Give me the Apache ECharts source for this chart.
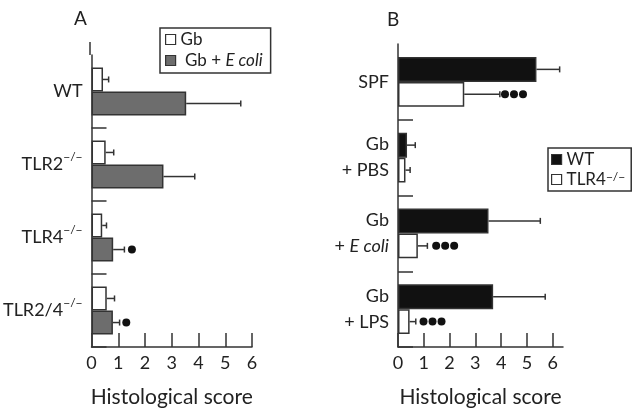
<!DOCTYPE html>
<html lang="en">
<head>
    <meta charset="UTF-8">
    <title>Histological score</title>
    <script src="https://cdn.jsdelivr.net/npm/echarts@6/dist/echarts.min.js"></script>
    <style>
        *{margin:0;padding:0;}
        html,body{width:100%;height:100%;overflow:hidden;background:#fff;}
        .container{width:635px;height:413px;}
    </style>
</head>
<body>
<div class="container"></div>
<script>
    // panel A
    const catsA = ['WT', 'TLR2−/−', 'TLR4−/−', 'TLR2/4−/−'];
    const gbA = [0.43, 0.53, 0.40, 0.57];
    const gbErrA = [0.64, 0.83, 0.56, 0.86];
    const ecoliA = [3.54, 2.69, 0.81, 0.80];
    const ecoliErrA = [5.58, 3.86, 1.23, 1.05];
    const dotsA = [[2, 1.51, 1], [3, 1.30, 1]];   // [category, first dot, count]

    // panel B
    const catsB = ['SPF', 'Gb + PBS', 'Gb + E coli', 'Gb + LPS'];
    const wtB = [5.37, 0.35, 3.51, 3.69];
    const wtErrB = [6.27, 0.67, 5.52, 5.71];
    const tlr4B = [2.57, 0.29, 0.77, 0.45];
    const tlr4ErrB = [3.95, 0.47, 1.14, 0.69];
    const dotsB = [[0, 4.15, 3], [2, 1.48, 3], [3, 0.99, 3]];

    const ticks = [0, 1, 2, 3, 4, 5, 6];

    const FONT = 'Lato';
    const INK = '#333';
    const GAP = 0.34;

    window.onload = function () {
        let chart = echarts.init(document.querySelector('.container'));

        // bar center offset inside the category band
        function barOffset(api, sign) {
            let band = Math.abs(api.size([0, 1])[1]);
            return sign * band * (1 - GAP) / 4;
        }

        function errorSeries(name, vals, errs, sign, idx) {
            return {
                type: 'custom', name: name + ' err', xAxisIndex: idx, yAxisIndex: idx,
                silent: true, z: 1,
                data: vals.map((v, i) => [i, v, errs[i]]),
                renderItem: function (params, api) {
                    let p0 = api.coord([api.value(1), api.value(0)]);
                    let p1 = api.coord([api.value(2), api.value(0)]);
                    let y = p0[1] + barOffset(api, sign);
                    let st = {stroke: INK, lineWidth: 1.5};
                    return {
                        type: 'group', children: [
                            {type: 'line', shape: {x1: p0[0], y1: y, x2: p1[0], y2: y}, style: st},
                            {type: 'line', shape: {x1: p1[0], y1: y - 3, x2: p1[0], y2: y + 3}, style: st}
                        ]
                    };
                }
            };
        }

        function dotSeries(dots, idx) {
            return {
                type: 'custom', xAxisIndex: idx, yAxisIndex: idx, silent: true, z: 3,
                data: dots,
                renderItem: function (params, api) {
                    let p = api.coord([api.value(1), api.value(0)]);
                    let y = p[1] + barOffset(api, 1);
                    let kids = [];
                    for (let k = 0; k < api.value(2); k++) {
                        kids.push({type: 'circle', shape: {cx: p[0] + k * 9, cy: y, r: 4}, style: {fill: '#111'}});
                    }
                    return {type: 'group', children: kids};
                }
            };
        }

        function barSeries(name, data, fill, idx) {
            return {
                type: 'bar', name: name, xAxisIndex: idx, yAxisIndex: idx,
                data: data, barGap: '0%', barCategoryGap: (GAP * 100) + '%',
                itemStyle: {color: fill, borderColor: INK, borderWidth: 1.5},
                emphasis: {disabled: true}, z: 2
            };
        }

        function xAxis(idx, max) {
            return {
                type: 'value', gridIndex: idx, min: 0, max: max, interval: 1,
                name: 'Histological score', nameLocation: 'middle', nameGap: 40,
                nameTextStyle: {fontFamily: FONT, fontSize: 21, color: '#222'},
                axisLine: {show: true, lineStyle: {color: INK, width: 1.5}},
                axisTick: {show: true, inside: true, length: 14, customValues: ticks,
                    lineStyle: {color: INK, width: 1.5}},
                axisLabel: {customValues: ticks, margin: 7, fontFamily: FONT, fontSize: 18, color: '#222'},
                splitLine: {show: false}
            };
        }

        const rich = {
            n: {fontFamily: FONT, fontSize: 18, color: '#222', lineHeight: 26},
            i: {fontFamily: FONT, fontSize: 18, color: '#222', fontStyle: 'italic', lineHeight: 26},
            sup: {fontFamily: FONT, fontSize: 12, color: '#222', verticalAlign: 'top', lineHeight: 15}
        };

        function yAxis(idx, cats, formatter) {
            return {
                type: 'category', gridIndex: idx, data: cats, inverse: true,
                axisLine: {show: true, lineStyle: {color: INK, width: 1.5}},
                axisTick: {show: true, inside: true, length: 15, interval: (i) => i > 0,
                    lineStyle: {color: INK, width: 1.5}},
                axisLabel: {interval: 0, margin: 9, formatter: formatter, rich: rich},
                splitLine: {show: false}
            };
        }

        let fmtA = function (v) {
            let parts = v.split('−/−');
            return parts.length > 1 ? '{n|' + parts[0] + '}{sup|−/−}' : '{n|' + v + '}';
        };
        let fmtB = function (v) {
            if (v.indexOf('Gb + ') !== 0) return '{n|' + v + '}';
            let rest = v.slice(5);
            let tag = rest === 'E coli' ? 'i' : 'n';
            return '{n|Gb}\n{n|+ }{' + tag + '|' + rest + '}';
        };

        let legendText = {fontFamily: FONT, fontSize: 17, color: '#222', rich: {
            n: {fontFamily: FONT, fontSize: 17, color: '#222'},
            i: {fontFamily: FONT, fontSize: 17, color: '#222', fontStyle: 'italic'},
            sup: {fontFamily: FONT, fontSize: 12, color: '#222', verticalAlign: 'top', lineHeight: 14}
        }};

        let options = {
            animation: false,
            backgroundColor: '#fff',
            title: [
                {text: 'A', left: 69, top: 4, textStyle: {fontFamily: FONT, fontSize: 19, fontWeight: 'normal', color: '#222'}},
                {text: 'B', left: 382, top: 5, textStyle: {fontFamily: FONT, fontSize: 19, fontWeight: 'normal', color: '#222'}}
            ],
            grid: [
                {left: 90, right: 383, top: 55, bottom: 59},
                {left: 398, right: 72, top: 44, bottom: 60}
            ],
            xAxis: [xAxis(0, 6), xAxis(1, 6.4)],
            yAxis: [yAxis(0, catsA, fmtA), yAxis(1, catsB, fmtB)],
            legend: [
                {
                    data: ['Gb', 'Gb + E coli'], orient: 'vertical', left: 160, top: 28,
                    borderColor: INK, borderWidth: 1.5, padding: [3, 8, 4, 5], itemGap: 4,
                    itemWidth: 10, itemHeight: 10, icon: 'rect', selectedMode: false,
                    itemStyle: {borderColor: INK, borderWidth: 1.2},
                    textStyle: legendText,
                    formatter: function (n) {
                        return n === 'Gb' ? '{n|Gb}' : '{n| Gb + }{i|E coli}';
                    }
                },
                {
                    data: ['WT', 'TLR4−/−'], orient: 'vertical', left: 548, top: 148,
                    borderColor: INK, borderWidth: 1.5, padding: [3, 6, 3, 3], itemGap: 3,
                    itemWidth: 10, itemHeight: 10, icon: 'rect', selectedMode: false,
                    itemStyle: {borderColor: INK, borderWidth: 1.2},
                    textStyle: legendText,
                    formatter: function (n) {
                        return n === 'WT' ? '{n|WT}' : '{n|TLR4}{sup|−/−}';
                    }
                }
            ],
            graphic: [
                // the y axis line of panel A reaches above the first band
                {type: 'line', shape: {x1: 90, y1: 42, x2: 90, y2: 55}, style: {stroke: INK, lineWidth: 1.5}}
            ],
            series: [
                barSeries('Gb', gbA, '#fff', 0),
                barSeries('Gb + E coli', ecoliA, '#6d6d6d', 0),
                errorSeries('Gb', gbA, gbErrA, -1, 0),
                errorSeries('Gb + E coli', ecoliA, ecoliErrA, 1, 0),
                dotSeries(dotsA, 0),
                barSeries('WT', wtB, '#111', 1),
                barSeries('TLR4−/−', tlr4B, '#fff', 1),
                errorSeries('WT', wtB, wtErrB, -1, 1),
                errorSeries('TLR4−/−', tlr4B, tlr4ErrB, 1, 1),
                dotSeries(dotsB, 1)
            ]
        };

        chart.setOption(options);
    };
</script>
</body>
</html>
